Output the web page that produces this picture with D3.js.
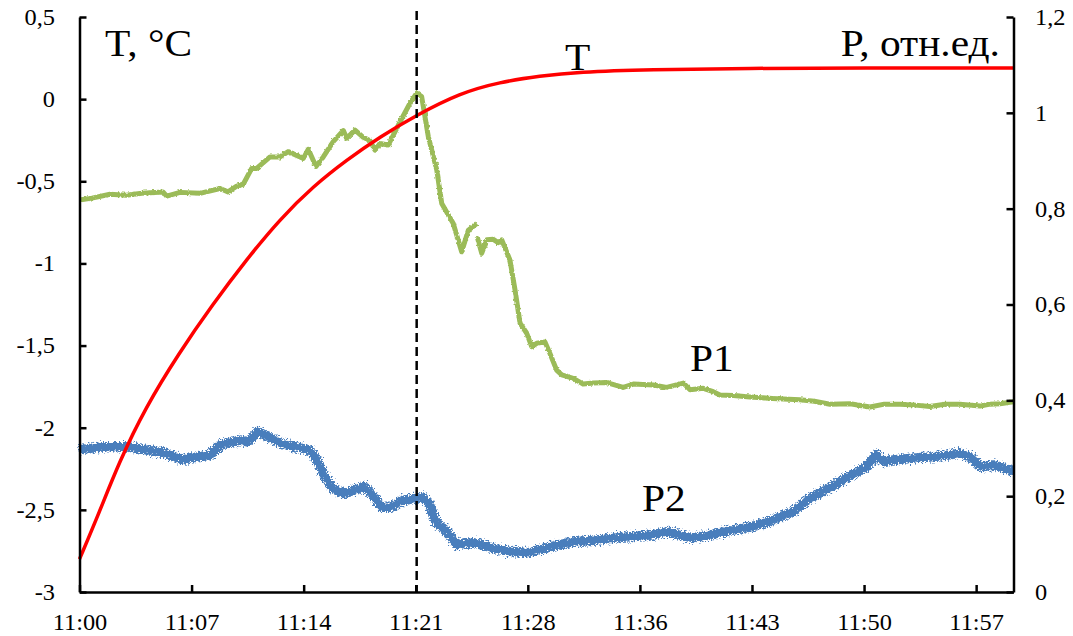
<!DOCTYPE html>
<html>
<head>
<meta charset="utf-8">
<script src="https://cdn.jsdelivr.net/npm/d3@7"></script>
<style>
  html, body { margin: 0; padding: 0; background: #fff; }
  svg { display: block; }
  svg text { font-family: "Liberation Serif", "DejaVu Serif", serif; fill: #000; }
</style>
</head>
<body>
<svg id="chart" width="1073" height="636"></svg>
<script>
// Time axis: minutes after 11:00; ticks every 7.2 min (0.005 day)
const timeTicks = [0, 7.2, 14.4, 21.6, 28.8, 36, 43.2, 50.4, 57.6];
const tempTicks = [-3, -2.5, -2, -1.5, -1, -0.5, 0, 0.5];
const relTicks = [0, 0.2, 0.4, 0.6, 0.8, 1, 1.2];

// Moment of the event (dashed line), minutes after 11:00
const eventMinute = 21.66;

// T, °C — temperature curve
const tMinutes = [0, 1.25, 2.54, 4.25, 6.39, 8.55, 10.74, 12.88, 15.02, 17.17, 19.31, 21.66, 24.44, 27.0, 29.6, 32.0, 36.6, 43.0, 50.0, 60.0];
const tValues = [-2.80, -2.52, -2.21, -1.875, -1.545, -1.25, -0.975, -0.73, -0.53, -0.37, -0.229, -0.097, 0.037, 0.104, 0.141, 0.165, 0.180, 0.188, 0.190, 0.190];

// P1, relative units (null marks a gap in the record)
const p1Minutes = [0, 0.8, 1.96, 3, 4, 5.36, 5.6, 6.46, 7.74, 9.03, 9.54, 10.1, 10.52, 11.06, 11.38, 12.24, 12.88, 13.41, 14.38, 14.7, 15.19, 15.66, 16.3, 16.95, 17.16, 17.7, 18.23, 18.66, 18.98, 19.3, 19.84, 20.59, 21.23, 21.66, 21.98, 22.41, 22.95, 23.27, 24.01, 24.55, 24.98, 25.52, 25.535, 25.55, 25.84, 26.16, 26.58, 26.9, 27.12, 27.65, 27.98, 28.3, 28.73, 29.05, 29.37, 29.9, 30.22, 30.65, 30.98, 31.72, 32.36, 33.01, 33.87, 34.93, 35.58, 36.86, 37.72, 38.79, 39.22, 40.07, 40.71, 41.14, 42, 43.07, 44.5, 46.28, 47.2, 48.21, 49.5, 50.78, 51.7, 52.71, 53.7, 54.63, 55.6, 56.56, 57.85, 58.5, 59.13, 60];
const p1Values = [0.818, 0.822, 0.830, 0.828, 0.832, 0.835, 0.826, 0.834, 0.832, 0.842, 0.835, 0.847, 0.851, 0.884, 0.884, 0.908, 0.908, 0.919, 0.905, 0.924, 0.888, 0.908, 0.940, 0.963, 0.947, 0.964, 0.949, 0.942, 0.922, 0.936, 0.933, 0.981, 1.020, 1.041, 1.034, 0.950, 0.881, 0.811, 0.769, 0.710, 0.755, 0.769, null, 0.741, 0.707, 0.735, 0.736, 0.729, 0.735, 0.693, 0.630, 0.561, 0.540, 0.512, 0.519, 0.522, 0.498, 0.463, 0.453, 0.446, 0.434, 0.436, 0.437, 0.427, 0.434, 0.432, 0.427, 0.436, 0.422, 0.425, 0.418, 0.411, 0.410, 0.407, 0.404, 0.401, 0.398, 0.392, 0.393, 0.386, 0.392, 0.392, 0.390, 0.387, 0.392, 0.392, 0.388, 0.392, 0.393, 0.397];

// P2, relative units
const p2Minutes = [0, 1.54, 3.08, 4.41, 5.51, 6.61, 7.72, 8.38, 9.04, 10.36, 10.8, 11.46, 12.12, 13.0, 13.88, 14.76, 15.21, 15.76, 16.31, 16.97, 17.85, 18.29, 18.95, 19.39, 20.06, 20.72, 21.38, 22.04, 22.48, 22.92, 23.58, 24.24, 25.34, 26.45, 27.55, 28.88, 30.28, 31.83, 33.39, 35.17, 36.73, 37.84, 39.18, 40.52, 41.85, 43.19, 44.52, 45.86, 46.75, 48.09, 49.42, 50.54, 51.2, 51.65, 52.1, 53.43, 54.77, 56.55, 57.22, 57.89, 58.78, 60];
const p2Values = [0.297, 0.303, 0.303, 0.296, 0.289, 0.276, 0.283, 0.285, 0.307, 0.317, 0.313, 0.335, 0.324, 0.310, 0.303, 0.296, 0.278, 0.240, 0.215, 0.205, 0.215, 0.220, 0.198, 0.177, 0.177, 0.191, 0.194, 0.198, 0.183, 0.145, 0.127, 0.099, 0.103, 0.092, 0.085, 0.082, 0.095, 0.105, 0.109, 0.115, 0.119, 0.126, 0.112, 0.119, 0.129, 0.136, 0.150, 0.168, 0.192, 0.216, 0.241, 0.261, 0.286, 0.272, 0.275, 0.279, 0.282, 0.289, 0.282, 0.261, 0.265, 0.251];

const svg = d3.select("#chart");
const plotLeft = 79.5, plotRight = 1013.5, plotTop = 17, plotBottom = 592;
const serif = "'Liberation Serif', 'DejaVu Serif', serif";

const start = new Date(2000, 0, 1, 11, 0, 0);
const atMinute = m => new Date(start.getTime() + m * 60000);

const x = d3.scaleTime().domain([atMinute(0), atMinute(60)]).range([plotLeft, plotRight]);
const yT = d3.scaleLinear().domain([-3, 0.5]).range([plotBottom, plotTop]);
const yP = d3.scaleLinear().domain([0, 1.2]).range([plotBottom, plotTop]);

const comma = v => String(v).replace(".", ",");

// widen glyphs horizontally about the text anchor point
function stretch(sel, s) {
  sel.attr("transform", function () {
    const ax = +this.getAttribute("x") || 0;
    return `translate(${ax * (1 - s)},0) scale(${s},1)`;
  });
}

// roughened strokes for the noisy records
const defs = svg.append("defs");
const rough = defs.append("filter").attr("id", "rough")
  .attr("x", "-5%").attr("y", "-30%").attr("width", "110%").attr("height", "160%");
rough.append("feTurbulence").attr("type", "fractalNoise").attr("baseFrequency", 0.6)
  .attr("numOctaves", 2).attr("seed", 4).attr("result", "noise");
rough.append("feDisplacementMap").attr("in", "SourceGraphic").attr("in2", "noise")
  .attr("scale", 9).attr("xChannelSelector", "R").attr("yChannelSelector", "G");

const soft = defs.append("filter").attr("id", "soft")
  .attr("x", "-5%").attr("y", "-30%").attr("width", "110%").attr("height", "160%");
soft.append("feTurbulence").attr("type", "fractalNoise").attr("baseFrequency", 0.45)
  .attr("numOctaves", 1).attr("seed", 9).attr("result", "noise");
soft.append("feDisplacementMap").attr("in", "SourceGraphic").attr("in2", "noise")
  .attr("scale", 3).attr("xChannelSelector", "R").attr("yChannelSelector", "G");

// data series
const p2Data = p2Minutes.map((m, i) => [m, p2Values[i]]);
const p1Data = p1Minutes.map((m, i) => [m, p1Values[i]]);
const tData = tMinutes.map((m, i) => [m, tValues[i]]);

svg.append("path")
  .datum(p2Data)
  .attr("fill", "none")
  .attr("stroke", "#4a7ebc")
  .attr("stroke-width", 9.5)
  .attr("stroke-linejoin", "round")
  .attr("filter", "url(#rough)")
  .attr("d", d3.line().x(d => x(atMinute(d[0]))).y(d => yP(d[1])));

svg.append("path")
  .datum(p1Data)
  .attr("fill", "none")
  .attr("stroke", "#9bbb59")
  .attr("stroke-width", 5)
  .attr("stroke-linejoin", "round")
  .attr("filter", "url(#soft)")
  .attr("d", d3.line().defined(d => d[1] != null).x(d => x(atMinute(d[0]))).y(d => yP(d[1])));

svg.append("path")
  .datum(tData)
  .attr("fill", "none")
  .attr("stroke", "#ff0000")
  .attr("stroke-width", 3.5)
  .attr("d", d3.line().curve(d3.curveBasis).x(d => x(atMinute(d[0]))).y(d => yT(d[1])));

// event marker
svg.append("line")
  .attr("x1", x(atMinute(eventMinute))).attr("x2", x(atMinute(eventMinute)))
  .attr("y1", 11).attr("y2", plotBottom)
  .attr("stroke", "#000").attr("stroke-width", 2.5)
  .attr("stroke-dasharray", "9,5");

// axes
function styleAxis(g) {
  g.attr("font-family", serif);
  g.selectAll(".domain").attr("stroke", "#000").attr("stroke-width", 2.5);
  g.selectAll(".tick line").attr("stroke", "#000").attr("stroke-width", 2.5);
  g.selectAll(".tick text").attr("font-family", serif)
    .attr("font-size", 23).attr("fill", "#000").call(stretch, 1.06);
}

svg.append("g")
  .attr("transform", `translate(0,${plotBottom})`)
  .call(d3.axisBottom(x).tickValues(timeTicks.map(atMinute))
    .tickFormat(d3.timeFormat("%H:%M")).tickSizeInner(-7).tickSizeOuter(0).tickPadding(22))
  .call(styleAxis);

svg.append("g")
  .attr("transform", `translate(${plotLeft},0)`)
  .call(d3.axisLeft(yT).tickValues(tempTicks).tickFormat(comma)
    .tickSizeInner(-7).tickSizeOuter(0).tickPadding(24.5))
  .call(styleAxis);

svg.append("g")
  .attr("transform", `translate(${plotRight},0)`)
  .call(d3.axisRight(yP).tickValues(relTicks).tickFormat(comma)
    .tickSizeInner(-7).tickSizeOuter(0).tickPadding(21.5))
  .call(styleAxis);

// series and axis annotations
const notes = [
  { text: "T, °C", x: 105, y: 56, anchor: "start" },
  { text: "P, отн.ед.", x: 1000, y: 56, anchor: "end" },
  { text: "T", x: 565, y: 70, anchor: "start" },
  { text: "P1", x: 690, y: 371, anchor: "start" },
  { text: "P2", x: 642, y: 511, anchor: "start" }
];
svg.append("g").selectAll("text").data(notes).join("text")
  .attr("x", d => d.x).attr("y", d => d.y)
  .attr("text-anchor", d => d.anchor)
  .attr("font-family", serif)
  .attr("font-size", 37)
  .text(d => d.text)
  .call(stretch, 1.12);
</script>
</body>
</html>
